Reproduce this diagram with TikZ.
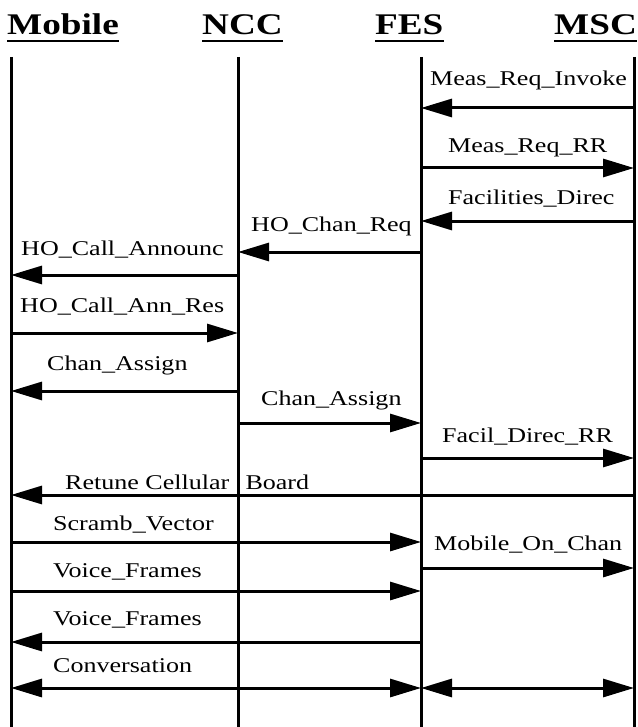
\documentclass[tikz,border=0pt]{standalone}
\usepackage{fontspec}
\setmainfont{Liberation Serif}
\usetikzlibrary{arrows.meta}
\newcommand{\stretchlbl}[1]{\scalebox{1.24}[1]{#1}}
\begin{document}
\begin{tikzpicture}[x=1pt,y=-1pt,
  life/.style={line width=3pt},
  msg/.style={line width=3pt, -{Triangle[length=31pt,width=18pt]}},
  dmsg/.style={line width=3pt, {Triangle[length=31pt,width=18pt]}-{Triangle[length=31pt,width=18pt]}},
  lab/.style={anchor=base west, inner sep=0pt, font=\fontsize{21}{25}\selectfont},
  head/.style={anchor=base west, inner sep=0pt, font=\fontsize{30}{34}\selectfont\bfseries},
  uline/.style={line width=2.8pt}]
\useasboundingbox[fill=white] (0,0) rectangle (637,727);
% headers
\node[head] (hm) at (7,35) {\stretchlbl{Mobile}};
\node[head] (hn) at (202,35) {\stretchlbl{NCC}};
\node[head] (hf) at (375,35) {\stretchlbl{FES}};
\node[head] (hs) at (554,35) {\stretchlbl{MSC}};
\foreach \h in {hm,hn,hf,hs}
  \draw[uline] ([yshift=-6pt]\h.base west) -- ([yshift=-6pt]\h.base east);
% lifelines
\coordinate (m) at (11,57);
\coordinate (n) at (238,57);
\coordinate (f) at (421,57);
\coordinate (s) at (634,57);
\coordinate (mb) at (11,727);
\coordinate (nb) at (238,727);
\coordinate (fb) at (421,727);
\coordinate (sb) at (634,727);
\draw[life] (m) -- (mb);
\draw[life] (n) -- (nb);
\draw[life] (f) -- (fb);
\draw[life] (s) -- (sb);
% messages
\draw[msg] (s |- 0,108) -- (f |- 0,108);
\node[lab] (l1) at (430,86) {\stretchlbl{Meas\_Req\_Invoke}};
\draw[msg] (f |- 0,168) -- (s |- 0,168);
\node[lab] (l2) at (448,153) {\stretchlbl{Meas\_Req\_RR}};
\draw[msg] (s |- 0,221) -- (f |- 0,221);
\node[lab] (l3) at (448,205) {\stretchlbl{Facilities\_Direc}};
\draw[msg] (f |- 0,252) -- (n |- 0,252);
\node[lab] (l4) at (251,231) {\stretchlbl{HO\_Chan\_Req}};
\draw[msg] (n |- 0,275) -- (m |- 0,275);
\node[lab] (l5) at (21,255) {\stretchlbl{HO\_Call\_Announc}};
\draw[msg] (m |- 0,333) -- (n |- 0,333);
\node[lab] (l6) at (20,312) {\stretchlbl{HO\_Call\_Ann\_Res}};
\draw[msg] (n |- 0,391) -- (m |- 0,391);
\node[lab] (l7) at (47,370) {\stretchlbl{Chan\_Assign}};
\draw[msg] (n |- 0,423) -- (f |- 0,423);
\node[lab] (l8) at (261,405) {\stretchlbl{Chan\_Assign}};
\draw[msg] (f |- 0,458) -- (s |- 0,458);
\node[lab] (l9) at (442,442) {\stretchlbl{Facil\_Direc\_RR}};
\draw[msg] (s |- 0,495) -- (m |- 0,495);
\node[lab] (l10) at (65,489) {\stretchlbl{Retune Cellular\hspace{13pt}Board}};
\draw[msg] (m |- 0,542) -- (f |- 0,542);
\node[lab] (l11) at (53,530) {\stretchlbl{Scramb\_Vector}};
\draw[msg] (f |- 0,568) -- (s |- 0,568);
\node[lab] (l12) at (434,550) {\stretchlbl{Mobile\_On\_Chan}};
\draw[msg] (m |- 0,591) -- (f |- 0,591);
\node[lab] (l13) at (53,577) {\stretchlbl{Voice\_Frames}};
\draw[msg] (f |- 0,642) -- (m |- 0,642);
\node[lab] (l14) at (53,625) {\stretchlbl{Voice\_Frames}};
\draw[dmsg] (m |- 0,688) -- (f |- 0,688);
\draw[dmsg] (f |- 0,688) -- (s |- 0,688);
\node[lab] (l15) at (53,672) {\stretchlbl{Conversation}};
\end{tikzpicture}
\end{document}
